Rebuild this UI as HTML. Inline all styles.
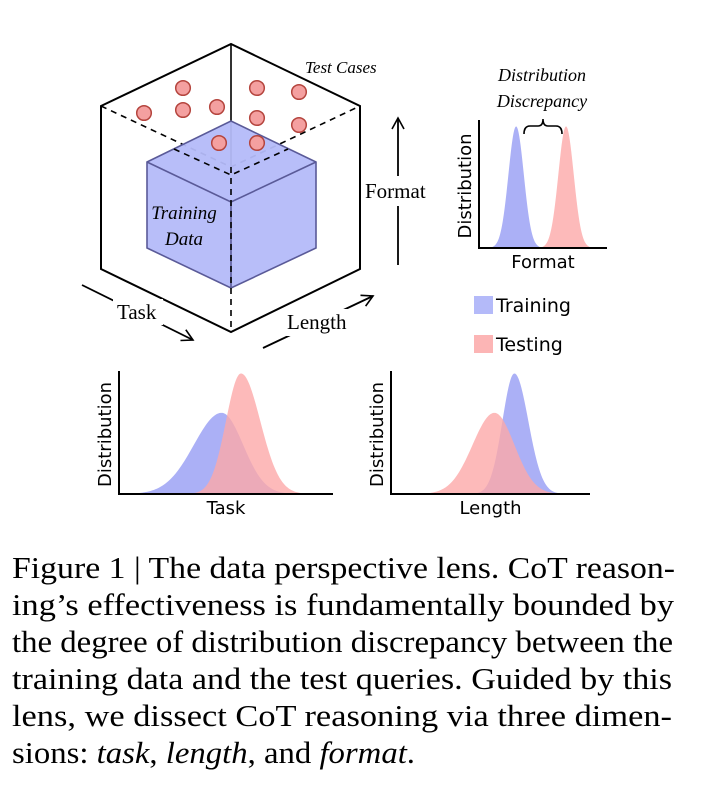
<!DOCTYPE html>
<html><head><meta charset="utf-8"><style>
html,body{margin:0;padding:0;background:#fff;width:714px;height:794px;overflow:hidden}
svg{display:block}
.sans{font-family:"DejaVu Sans","Liberation Sans",sans-serif}
.serif{font-family:"Liberation Serif",serif}
</style></head><body>
<svg id="fig" width="714" height="794" viewBox="0 0 714 794" xmlns="http://www.w3.org/2000/svg">
<defs>
<marker id="ah" markerWidth="14" markerHeight="14" refX="12" refY="7" orient="auto" markerUnits="userSpaceOnUse"><path d="M1,1 L12,7 L1,13" fill="none" stroke="#000" stroke-width="1.6"/></marker>
</defs>
<g>
 <g stroke="#000" stroke-width="2" fill="none">
  <path d="M101,106 L231,44 L360,106 L360,269 L231,332 L101,269 Z"/>
  <line x1="231" y1="44" x2="231" y2="167" stroke-width="1.6"/>
  <path d="M101,106 L231,167 L360,106" stroke-dasharray="6,5" stroke-width="1.6"/>
 </g>
 <g fill="#b4baf9" fill-opacity="0.95" stroke="#5a5a98" stroke-width="1.6">
  <path d="M147,162 L231,121 L316,162 L316,248 L231,288 L147,248 Z"/>
  <path d="M147,162 L231,202 L316,162 M231,202 L231,288" fill="none"/>
 </g>
 <path d="M174,149 L231,175 L288,149 M231,167 L231,332" stroke="#000" stroke-width="1.6" stroke-dasharray="6,5" fill="none"/>
 <g id="dots"></g>
 <text class="serif" x="184" y="219" font-size="19" font-style="italic" text-anchor="middle">Training</text>
 <text class="serif" x="184" y="245" font-size="19" font-style="italic" text-anchor="middle">Data</text>
 <text class="serif" x="305" y="73" font-size="17" font-style="italic">Test Cases</text>
 <line x1="398" y1="265" x2="398" y2="118" stroke="#000" stroke-width="1.8" marker-end="url(#ah)"/>
 <rect x="362" y="176" width="72" height="30" fill="#fff"/>
 <text class="serif" x="365" y="198" font-size="21">Format</text>
 <line x1="82" y1="285" x2="193" y2="340" stroke="#000" stroke-width="1.8" marker-end="url(#ah)"/>
 <rect x="113" y="299" width="50" height="26" fill="#fff"/>
 <text class="serif" x="117" y="319" font-size="21">Task</text>
 <line x1="263" y1="348" x2="373" y2="296" stroke="#000" stroke-width="1.8" marker-end="url(#ah)"/>
 <rect x="283" y="309" width="70" height="27" fill="#fff"/>
 <text class="serif" x="287" y="329" font-size="21">Length</text>
</g>
<g id="charts"></g>
<text class="serif" x="542" y="81" font-size="18" font-style="italic" text-anchor="middle">Distribution</text>
<text class="serif" x="542" y="107" font-size="18" font-style="italic" text-anchor="middle">Discrepancy</text>
<path d="M524,134 Q524,126 530,126 L538,126 Q543,126 543,119 Q543,126 548,126 L556,126 Q562,126 562,134" fill="none" stroke="#000" stroke-width="1.6"/>
<g>
 <rect x="474" y="296" width="19" height="18" fill="#b4baf9"/>
 <text class="sans" x="496" y="312" font-size="19">Training</text>
 <rect x="474" y="335" width="19" height="18" fill="#fcb5b5"/>
 <text class="sans" x="496" y="351" font-size="19">Testing</text>
</g>
<g class="serif" font-size="31">
 <text x="12" y="578" textLength="663" lengthAdjust="spacingAndGlyphs">Figure 1 | The data perspective lens. CoT reason-</text>
 <text x="12" y="615" textLength="662" lengthAdjust="spacingAndGlyphs">ing’s effectiveness is fundamentally bounded by</text>
 <text x="12" y="652" textLength="661" lengthAdjust="spacingAndGlyphs">the degree of distribution discrepancy between the</text>
 <text x="12" y="689" textLength="660" lengthAdjust="spacingAndGlyphs">training data and the test queries. Guided by this</text>
 <text x="12" y="726" textLength="660" lengthAdjust="spacingAndGlyphs">lens, we dissect CoT reasoning via three dimen-</text>
 <text x="12" y="763" textLength="403" lengthAdjust="spacingAndGlyphs">sions: <tspan font-style="italic">task</tspan>, <tspan font-style="italic">length</tspan>, and <tspan font-style="italic">format</tspan>.</text>
</g>
</svg>
<script>
// test case dot positions (data points in the diagram)
const dotX = [144,183,183,217,257,257,299,299,219,257];
const dotY = [113,88,110,107,88,118,92,125,143,143];
// distribution parameters: [peak position 0..1, left sd, right sd, height 0..1]
const taskTrain = [0.48, 0.13, 0.10, 0.66];
const taskTest  = [0.57, 0.07, 0.09, 0.98];
const lenTrain  = [0.62, 0.06, 0.07, 0.98];
const lenTest   = [0.52, 0.11, 0.10, 0.66];
const fmtTrain  = [0.29, 0.06, 0.06, 0.95];
const fmtTest   = [0.68, 0.06, 0.06, 0.95];
const NS="http://www.w3.org/2000/svg";
const dg=document.getElementById('dots');
for(let i=0;i<dotX.length;i++){
 const c=document.createElementNS(NS,'circle');
 
 
 c.setAttribute('cx',dotX[i]);c.setAttribute('cy',dotY[i]);c.setAttribute('r',7.3);
 c.setAttribute('fill','#f4a0a0');c.setAttribute('stroke','#b5453e');c.setAttribute('stroke-width','1.5');
 dg.appendChild(c);
}
const charts=[
 {name:'task',x0:119,x1:333,y0:494,y1:371,label:'Task',series:[taskTrain,taskTest]},
 {name:'length',x0:391,x1:590,y0:494,y1:371,label:'Length',series:[lenTrain,lenTest]},
 {name:'format',x0:479,x1:607,y0:248,y1:120,label:'Format',series:[fmtTrain,fmtTest]}
];
const cols=['#a6acf6','#fca9a9'];
const cg=document.getElementById('charts');
charts.forEach(ch=>{
 const g=document.createElementNS(NS,'g');
 
 
 const sx=v=>ch.x0+v*(ch.x1-ch.x0);
 const sy=v=>ch.y0-v*(ch.y0-ch.y1);
 ch.series.forEach((p,si)=>{
  let d='M'+sx(0)+','+sy(0);
  for(let k=0;k<=200;k++){
   const t=k/200, sd=t<p[0]?p[1]:p[2];
   const v=p[3]*Math.exp(-0.5*Math.pow((t-p[0])/sd,2));
   d+=' L'+sx(t).toFixed(2)+','+sy(v).toFixed(2);
  }
  d+=' L'+sx(1)+','+sy(0)+' Z';
  const path=document.createElementNS(NS,'path');
  
  
  path.setAttribute('d',d);path.setAttribute('fill',cols[si]);path.setAttribute('fill-opacity',si?0.8:0.95);
  g.appendChild(path);
 });
 const ax=document.createElementNS(NS,'path');
 
 
 ax.setAttribute('d','M'+ch.x0+','+ch.y1+' L'+ch.x0+','+ch.y0+' L'+ch.x1+','+ch.y0);
 ax.setAttribute('fill','none');ax.setAttribute('stroke','#000');ax.setAttribute('stroke-width','2');
 g.appendChild(ax);
 const xl=document.createElementNS(NS,'text');
 
 
 xl.setAttribute('class','sans');xl.setAttribute('font-size','18');xl.setAttribute('text-anchor','middle');
 xl.setAttribute('x',(ch.x0+ch.x1)/2);xl.setAttribute('y',ch.y0+20);xl.textContent=ch.label;
 g.appendChild(xl);
 const yl=document.createElementNS(NS,'text');
 
 
 yl.setAttribute('class','sans');yl.setAttribute('font-size','18');yl.setAttribute('text-anchor','middle');
 const cx=ch.x0-8, cy=(ch.y0+ch.y1)/2+2;
 yl.setAttribute('transform','translate('+cx+','+cy+') rotate(-90)');yl.textContent='Distribution';
 g.appendChild(yl);
 cg.appendChild(g);
});
</script>
</body></html>
